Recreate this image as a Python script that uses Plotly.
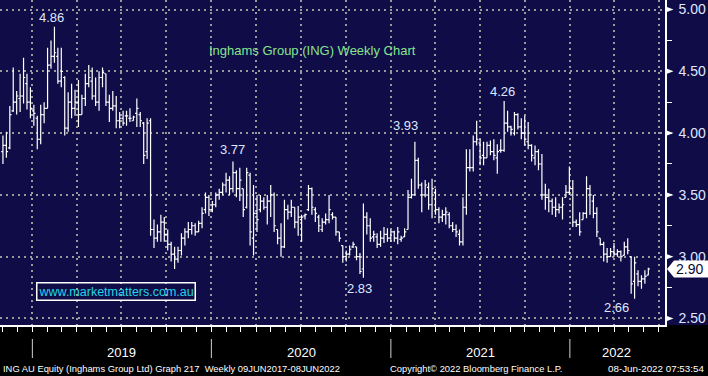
import plotly.graph_objects as go
import pandas as pd

# ---------------- data (weekly OHLC) ----------------
first_week = "2018-11-02"

opens = [3.85, 3.90, 3.88, 4.18, 4.25, 4.28, 4.30, 4.40, 4.25, 4.18,
         4.12, 3.95, 4.15, 4.20, 4.55, 4.62, 4.62, 4.42, 4.45, 4.04,
         4.25, 4.20, 4.25, 4.15, 4.28, 4.40, 4.42, 4.30, 4.25, 4.45,
         4.48, 4.25, 4.20, 4.22, 4.10, 4.12, 4.14, 4.12, 4.10, 4.16,
         4.15, 4.08, 3.85, 4.10, 3.22, 3.15, 3.20, 3.28, 3.18, 3.10,
         3.02, 2.98, 3.05, 3.15, 3.20, 3.22, 3.25, 3.20, 3.27, 3.38,
         3.48, 3.38, 3.42, 3.50, 3.52, 3.58, 3.62, 3.55, 3.68, 3.55,
         3.55, 3.40, 3.66, 3.15, 3.35, 3.38, 3.45, 3.40, 3.45, 3.50,
         3.22, 3.15, 3.08, 3.38, 3.36, 3.40, 3.28, 3.30, 3.33, 3.38,
         3.55, 3.38, 3.32, 3.22, 3.28, 3.30, 3.34, 3.32, 3.20, 3.09,
         3.00, 3.02, 3.08, 3.08, 3.00, 2.90, 3.32, 3.25, 3.16, 3.16,
         3.10, 3.15, 3.18, 3.15, 3.20, 3.15, 3.14, 3.16, 3.22, 3.48,
         3.50, 3.78, 3.58, 3.50, 3.56, 3.42, 3.52, 3.38, 3.32, 3.34,
         3.34, 3.25, 3.22, 3.18, 3.12, 3.40, 3.72, 3.72, 3.93, 3.92,
         3.82, 3.80, 3.90, 3.85, 3.80, 3.86, 3.86, 4.08, 4.05, 4.00,
         4.15, 4.05, 4.00, 3.93, 3.90, 3.80, 3.85, 3.75, 3.50, 3.48,
         3.45, 3.40, 3.38, 3.40, 3.48, 3.52, 3.55, 3.28, 3.26, 3.30,
         3.35, 3.55, 3.45, 3.35, 3.15, 3.10, 3.02, 3.00, 3.04, 3.02,
         3.04, 3.01, 3.08, 3.00, 2.80, 2.86, 2.80, 2.82, 2.85]

highs = [3.98, 4.01, 4.22, 4.53, 4.34, 4.48, 4.61, 4.48, 4.37, 4.23,
         4.14, 4.23, 4.25, 4.69, 4.75, 4.86, 4.69, 4.69, 4.46, 4.33,
         4.40, 4.35, 4.43, 4.31, 4.48, 4.55, 4.53, 4.45, 4.50, 4.53,
         4.48, 4.31, 4.34, 4.30, 4.17, 4.18, 4.18, 4.20, 4.14, 4.28,
         4.17, 4.09, 4.12, 4.12, 3.30, 3.26, 3.34, 3.32, 3.22, 3.12,
         3.08, 3.08, 3.19, 3.23, 3.28, 3.28, 3.27, 3.29, 3.40, 3.52,
         3.50, 3.45, 3.52, 3.55, 3.60, 3.68, 3.65, 3.77, 3.70, 3.72,
         3.55, 3.72, 3.68, 3.58, 3.50, 3.50, 3.48, 3.50, 3.58, 3.52,
         3.22, 3.27, 3.46, 3.42, 3.46, 3.40, 3.41, 3.34, 3.35, 3.58,
         3.56, 3.40, 3.34, 3.31, 3.35, 3.50, 3.36, 3.32, 3.20, 3.09,
         3.05, 3.09, 3.12, 3.08, 3.03, 3.43, 3.36, 3.31, 3.21, 3.19,
         3.21, 3.24, 3.23, 3.22, 3.21, 3.24, 3.17, 3.23, 3.54, 3.63,
         3.93, 3.80, 3.60, 3.62, 3.60, 3.63, 3.55, 3.40, 3.38, 3.40,
         3.36, 3.28, 3.26, 3.22, 3.48, 3.87, 3.87, 3.98, 4.10, 3.95,
         3.93, 3.93, 3.94, 3.95, 3.91, 3.95, 4.26, 4.18, 4.06, 4.17,
         4.16, 4.12, 4.14, 4.09, 3.91, 3.90, 3.87, 3.83, 3.59, 3.55,
         3.47, 3.48, 3.43, 3.48, 3.58, 3.73, 3.62, 3.30, 3.36, 3.36,
         3.65, 3.58, 3.50, 3.40, 3.15, 3.12, 3.07, 3.07, 3.11, 3.06,
         3.05, 3.12, 3.15, 3.00, 3.00, 2.89, 2.85, 2.89, 2.91]

lows = [3.75, 3.80, 3.87, 4.17, 4.15, 4.17, 4.24, 4.19, 4.12, 4.06,
        3.87, 3.91, 4.08, 4.20, 4.52, 4.57, 4.40, 4.37, 3.98, 4.01,
        4.12, 4.14, 4.05, 4.15, 4.22, 4.37, 4.27, 4.22, 4.18, 4.37,
        4.22, 4.09, 4.18, 4.04, 4.04, 4.06, 4.06, 4.09, 4.10, 4.05,
        4.05, 3.75, 3.79, 3.17, 3.07, 3.12, 3.12, 3.12, 3.05, 2.96,
        2.90, 2.95, 3.01, 3.09, 3.15, 3.18, 3.17, 3.20, 3.23, 3.35,
        3.33, 3.36, 3.40, 3.46, 3.50, 3.52, 3.50, 3.52, 3.48, 3.45,
        3.32, 3.39, 3.09, 3.01, 3.20, 3.36, 3.38, 3.26, 3.32, 3.20,
        3.10, 3.00, 3.07, 3.30, 3.32, 3.23, 3.17, 3.12, 3.30, 3.37,
        3.34, 3.28, 3.20, 3.20, 3.26, 3.27, 3.30, 3.17, 3.12, 2.95,
        2.96, 3.01, 3.07, 2.97, 2.86, 2.83, 3.18, 3.12, 3.12, 3.07,
        3.08, 3.11, 3.12, 3.12, 3.12, 3.10, 3.12, 3.16, 3.22, 3.47,
        3.50, 3.55, 3.36, 3.48, 3.38, 3.31, 3.34, 3.27, 3.28, 3.26,
        3.23, 3.20, 3.16, 3.09, 3.09, 3.34, 3.69, 3.69, 3.90, 3.74,
        3.74, 3.80, 3.82, 3.78, 3.67, 3.84, 3.85, 4.01, 3.98, 3.98,
        4.03, 3.95, 3.90, 3.87, 3.77, 3.74, 3.70, 3.46, 3.38, 3.36,
        3.34, 3.32, 3.35, 3.30, 3.48, 3.50, 3.24, 3.24, 3.17, 3.30,
        3.31, 3.34, 3.31, 3.16, 3.09, 2.96, 2.95, 3.00, 3.00, 3.00,
        2.96, 3.01, 3.02, 2.70, 2.66, 2.76, 2.74, 2.78, 2.85]

closes = [3.90, 3.85, 4.15, 4.25, 4.30, 4.30, 4.45, 4.25, 4.20, 4.16,
          3.95, 4.15, 4.20, 4.55, 4.62, 4.65, 4.42, 4.50, 4.04, 4.25,
          4.20, 4.25, 4.15, 4.28, 4.40, 4.45, 4.30, 4.25, 4.45, 4.49,
          4.25, 4.20, 4.22, 4.10, 4.12, 4.08, 4.14, 4.12, 4.13, 4.20,
          4.10, 3.82, 4.08, 3.22, 3.15, 3.20, 3.28, 3.18, 3.10, 3.02,
          2.98, 3.05, 3.15, 3.20, 3.22, 3.25, 3.20, 3.27, 3.35, 3.48,
          3.38, 3.42, 3.50, 3.52, 3.58, 3.62, 3.55, 3.68, 3.55, 3.62,
          3.38, 3.68, 3.20, 3.35, 3.30, 3.45, 3.40, 3.45, 3.50, 3.25,
          3.15, 3.08, 3.38, 3.36, 3.40, 3.28, 3.32, 3.32, 3.34, 3.55,
          3.40, 3.35, 3.25, 3.28, 3.30, 3.38, 3.32, 3.20, 3.15, 3.00,
          3.02, 3.06, 3.10, 3.00, 2.88, 3.32, 3.25, 3.15, 3.18, 3.10,
          3.15, 3.18, 3.15, 3.20, 3.15, 3.20, 3.15, 3.20, 3.48, 3.50,
          3.78, 3.58, 3.50, 3.58, 3.42, 3.55, 3.38, 3.32, 3.34, 3.36,
          3.25, 3.22, 3.20, 3.12, 3.40, 3.72, 3.72, 3.93, 3.95, 3.80,
          3.80, 3.90, 3.85, 3.82, 3.85, 3.86, 4.08, 4.05, 4.03, 4.15,
          4.05, 4.00, 3.95, 3.90, 3.82, 3.85, 3.75, 3.50, 3.48, 3.45,
          3.40, 3.38, 3.40, 3.42, 3.52, 3.55, 3.28, 3.26, 3.20, 3.35,
          3.55, 3.50, 3.35, 3.20, 3.10, 3.02, 3.00, 3.04, 3.02, 3.04,
          3.00, 3.08, 3.05, 2.78, 2.95, 2.80, 2.82, 2.84, 2.90]

year_labels = ["2019", "2020", "2021", "2022"]
year_label_dates = ["2019-07-02", "2020-07-02", "2021-07-02", "2022-04-06"]
year_starts = ["2019-01-01", "2020-01-01", "2021-01-01", "2022-01-01"]
price_ticks = [2.50, 3.00, 3.50, 4.00, 4.50, 5.00]
peak_weeks = [15, 67, 120, 146]      # weeks whose high is labelled
trough_weeks = [105, 184]            # weeks whose low is labelled

title_text = "Inghams Group (ING) Weekly Chart"
watermark = "www.marketmatters.com.au"
footer_left = "ING AU Equity (Inghams Group Ltd) Graph 217  Weekly 09JUN2017-08JUN2022"
footer_mid = "Copyright\u00a9 2022 Bloomberg Finance L.P."
footer_right = "08-Jun-2022 07:53:54"

dates = pd.date_range(first_week, periods=len(closes), freq="7D")
last_close = closes[-1]

# ---------------- styling ----------------
NAVY = "#100c47"
GRID = "#9a9a9a"
LABEL = "#dfe7ff"
W, H = 708, 376
ML, MR, MT, MB = 0, 43, 0, 51
PW = W - ML - MR
PH = H - MT - MB
Y0, Y1 = 2.447, 5.077
FONT = "Arial, Liberation Sans"


def px_x(p):
    return (p - ML) / PW


def px_y(p):
    return (H - MB - p) / PH


fig = go.Figure()
fig.add_trace(go.Ohlc(
    x=dates, open=opens, high=highs, low=lows, close=closes,
    increasing=dict(line=dict(color="white", width=1.2)),
    decreasing=dict(line=dict(color="white", width=1.2)),
    tickwidth=0.5, hoverinfo="skip", showlegend=False,
))

shapes = []
# navy band behind right price axis
shapes.append(dict(type="rect", xref="paper", yref="paper", x0=1, x1=W / PW + 0.01,
                   y0=0, y1=1, fillcolor=NAVY, line=dict(width=0), layer="below"))
# year separators in the bottom strip
for d in year_starts:
    shapes.append(dict(type="line", xref="x", yref="paper", x0=d, x1=d,
                       y0=px_y(339), y1=px_y(358), line=dict(color="#d0d0d0", width=1)))
# white arrow markers on the price axis
dy = 3.2 / (PH / (Y1 - Y0))
for v in price_ticks:
    shapes.append(dict(type="path", xref="paper", yref="y",
                       path=f"M 1.0,{v + dy} L {px_x(673.5)},{v} L 1.0,{v - dy} Z",
                       fillcolor="white", line=dict(width=0), layer="above"))
# last price tag
hh = 8.5 / (PH / (Y1 - Y0))
x_tip, x_body, x_end = px_x(667), px_x(674), px_x(708.5)
shapes.append(dict(type="path", xref="paper", yref="y",
                   path=(f"M {x_tip},{last_close} L {x_body},{last_close + hh} "
                         f"L {x_end},{last_close + hh} L {x_end},{last_close - hh} "
                         f"L {x_body},{last_close - hh} Z"),
                   fillcolor="white", line=dict(width=0), layer="above"))

annotations = []
annotations.append(dict(text=title_text, xref="paper", yref="paper",
                        x=px_x(312), y=px_y(50.5), xanchor="center", yanchor="middle",
                        showarrow=False,
                        font=dict(family=FONT, size=13, color="#86e48e")))
annotations.append(dict(text=watermark, xref="paper", yref="paper",
                        x=px_x(116), y=px_y(291.5), xanchor="center", yanchor="middle",
                        showarrow=False,
                        font=dict(family=FONT, size=12.5, color="#1fd6e8"),
                        bordercolor="white", borderwidth=1.5, borderpad=1))
annotations.append(dict(text=f"{last_close:.2f}", xref="paper", yref="y",
                        x=px_x(689), y=last_close, xanchor="center", yanchor="middle",
                        showarrow=False,
                        font=dict(family=FONT, size=14, color="#0b0b30")))

peak_shifts = [(-3, 0), (0, 3), (-9, 7), (-2, 0)]
for i, (dx, dyy) in zip(peak_weeks, peak_shifts):
    annotations.append(dict(text=f"{highs[i]:.2f}", x=dates[i], y=highs[i], xref="x", yref="y",
                            showarrow=False, xanchor="center", yanchor="bottom",
                            xshift=dx, yshift=dyy,
                            font=dict(family=FONT, size=13, color=LABEL)))
trough_shifts = [(-4, -1), (-18, 1)]
for i, (dx, dyy) in zip(trough_weeks, trough_shifts):
    annotations.append(dict(text=f"{lows[i]:.2f}", x=dates[i], y=lows[i], xref="x", yref="y",
                            showarrow=False, xanchor="center", yanchor="top",
                            xshift=dx, yshift=dyy,
                            font=dict(family=FONT, size=13, color=LABEL)))

for lab, d in zip(year_labels, year_label_dates):
    annotations.append(dict(text=lab, x=d, xref="x", yref="paper", y=px_y(352),
                            xanchor="center", yanchor="middle", showarrow=False,
                            font=dict(family=FONT, size=13, color="white")))

annotations.append(dict(text=footer_left, xref="paper", yref="paper", x=px_x(1), y=px_y(368),
                        xanchor="left", yanchor="middle", showarrow=False,
                        font=dict(family=FONT, size=9.4, color="white")))
annotations.append(dict(text=footer_mid, xref="paper", yref="paper", x=px_x(388), y=px_y(368),
                        xanchor="left", yanchor="middle", showarrow=False,
                        font=dict(family=FONT, size=9.4, color="white")))
annotations.append(dict(text=footer_right, xref="paper", yref="paper", x=px_x(706), y=px_y(368),
                        xanchor="right", yanchor="middle", showarrow=False,
                        font=dict(family=FONT, size=9.8, color="white")))

fig.update_layout(
    width=W, height=H,
    margin=dict(l=ML, r=MR, t=MT, b=MB, pad=0),
    paper_bgcolor="black", plot_bgcolor=NAVY,
    shapes=shapes, annotations=annotations,
    showlegend=False,
    xaxis=dict(
        type="date", range=["2018-10-27", "2022-07-14"],
        rangeslider=dict(visible=False),
        tick0="2019-01-01", dtick="M3",
        showgrid=True, gridcolor=GRID, gridwidth=2, griddash="2px,4px",
        showticklabels=False, ticks="outside", ticklen=5, tickcolor="white", tickwidth=1,
        minor=dict(dtick="M1", ticks="outside", ticklen=5, tickcolor="white", tickwidth=1,
                   showgrid=False),
        showline=True, linecolor="white", linewidth=1.5, zeroline=False,
        fixedrange=True,
    ),
    yaxis=dict(
        side="right", range=[Y0, Y1],
        tickvals=price_ticks, tickformat=".2f",
        showgrid=True, gridcolor=GRID, gridwidth=2, griddash="2px,4px",
        ticks="outside", ticklen=9, tickcolor="rgba(0,0,0,0)",
        minor=dict(dtick=0.25, ticks="outside", ticklen=5, tickcolor="white", tickwidth=1,
                   showgrid=False),
        tickfont=dict(family=FONT, size=14, color=LABEL),
        showline=True, linecolor="white", linewidth=1.5, zeroline=False,
        fixedrange=True,
    ),
)

fig.write_html("out.html", config={"displayModeBar": False},
               post_script="document.body.style.margin='0';document.body.style.overflow='hidden';")
